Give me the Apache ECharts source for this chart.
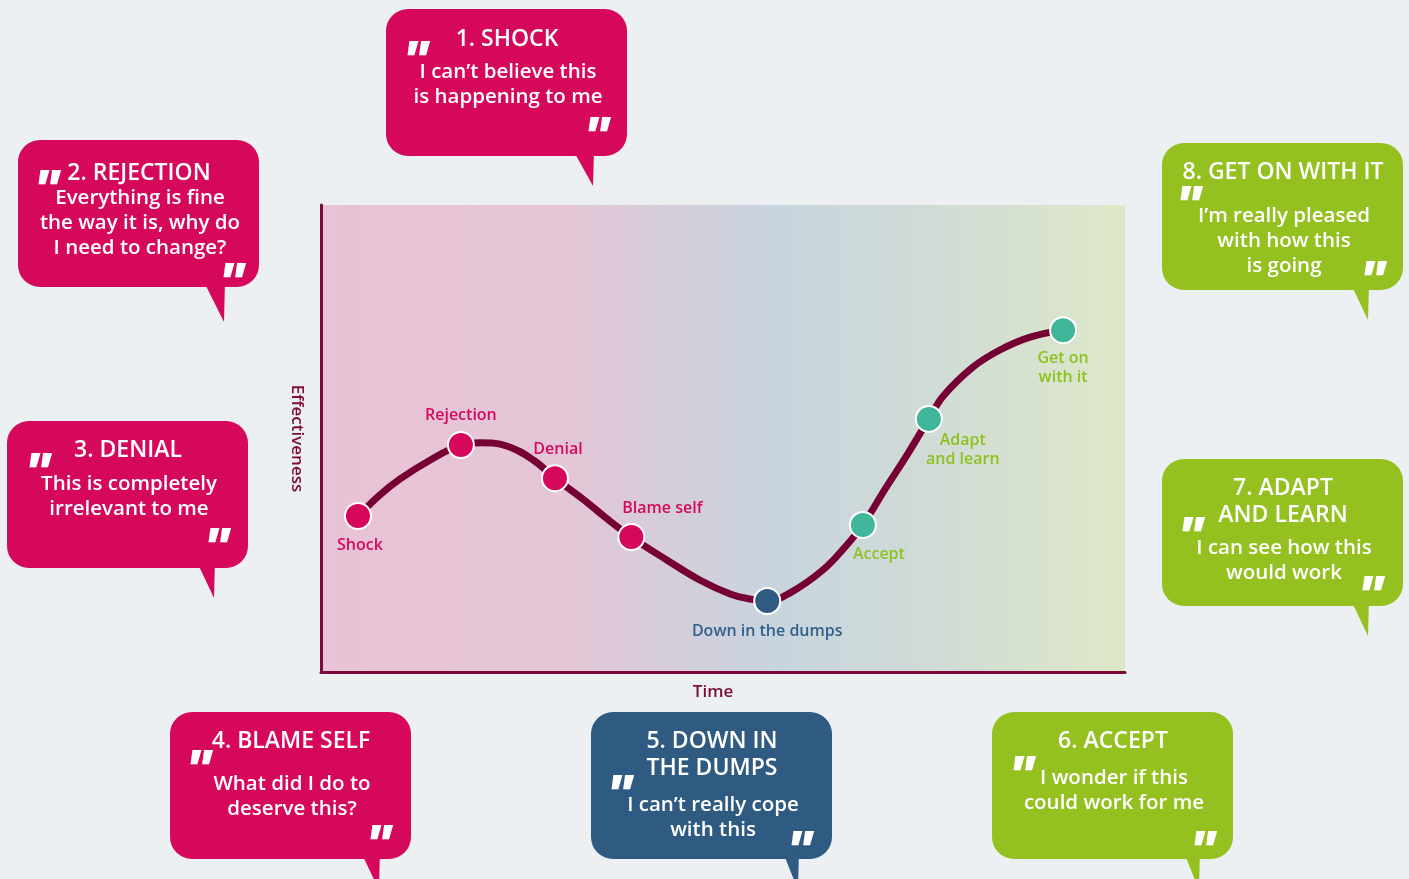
<!DOCTYPE html>
<html>
<head>
<meta charset="utf-8">
<script src="https://cdn.jsdelivr.net/npm/echarts@6/dist/echarts.min.js"></script>
<style>
html,body{margin:0;padding:0;background:#ecf0f3;}
#chart{width:1409px;height:879px;}
</style>
</head>
<body>
<div id="chart"></div>
<script>
// ---- data ----
const stages = ['Shock', 'Rejection', 'Denial', 'Blame self', 'Down in the dumps', 'Accept', 'Adapt\nand learn', 'Get on\nwith it'];
const timeValues = [4.6, 17.4, 29.1, 38.6, 55.5, 67.4, 75.6, 92.3];
const effectiveness = [33.4, 48.6, 41.5, 28.9, 15.2, 31.5, 54.2, 73.2];
const stageGroup = ['red', 'red', 'red', 'red', 'blue', 'green', 'green', 'green'];

// the change curve, read along its path
const curveTime = [4.6, 7.3, 9.8, 13.6, 17.4, 19.8, 23.1, 26.4, 29.1, 32.6, 35.3, 38.6, 43.0, 47.1, 50.9, 53.4, 55.5, 58.3, 62.4, 65.4, 67.4, 70.1, 72.9, 75.6, 77.4, 81.1, 84.5, 88.2, 92.3];
const curveEff = [33.4, 37.9, 41.3, 45.4, 48.6, 49.1, 48.4, 45.4, 41.5, 37.0, 33.2, 28.9, 24.0, 19.7, 16.7, 15.6, 15.2, 16.9, 21.8, 27.2, 31.5, 39.0, 46.5, 54.2, 59.1, 65.3, 69.0, 71.7, 73.2];

const bubbleTitles = ['1. SHOCK', '2. REJECTION', '3. DENIAL', '4. BLAME SELF', '5. DOWN IN\nTHE DUMPS', '6. ACCEPT', '7. ADAPT\nAND LEARN', '8. GET ON WITH IT'];
const bubbleQuotes = [
  'I can\u2019t believe this\nis happening to me',
  'Everything is fine\nthe way it is, why do\nI need to change?',
  'This is completely\nirrelevant to me',
  'What did I do to\ndeserve this?',
  'I can\u2019t really cope\nwith this',
  'I wonder if this\ncould work for me',
  'I can see how this\nwould work',
  'I\u2019m really pleased\nwith how this\nis going'
];

const pointColor = { red: '#d6085b', blue: '#2f5b82', green: '#40b69b' };
const labelColor = { red: '#d6085b', blue: '#31608c', green: '#8dc21f' };
const bubbleColor = { red: '#d6085b', blue: '#2f5b82', green: '#94c11f' };
const labelOffsets = [[2, 29], [0, -30], [3, -29], [31, -29], [0, 30], [16, 30], [34, 31], [0, 38]];

// ---- layout of bubbles (pixels) ----
const bubbleLayout = [
  { x: 386, y: 9, tail: [[573, 150], [594, 150], [593, 186]], titleY: 39, quoteY: 85, qo: [415, 65], qc: [596, 141] },
  { x: 18, y: 140, tail: [[203, 280], [225, 280], [224, 322]], titleY: 173, quoteY: 223, qo: [46, 194], qc: [231, 287] },
  { x: 7, y: 421, tail: [[196, 560], [215, 560], [214, 598]], titleY: 450, quoteY: 497, qo: [37, 477], qc: [216, 552] },
  { x: 170, y: 712, tail: [[360, 850], [380, 850], [379, 890]], titleY: 741, quoteY: 797, qo: [198, 774], qc: [378, 849] },
  { x: 591, y: 712, tail: [[782, 850], [799, 850], [798, 890]], titleY: 755, quoteY: 818, qo: [619, 799], qc: [799, 855] },
  { x: 992, y: 712, tail: [[1183, 850], [1200, 850], [1199, 890]], titleY: 741, quoteY: 791, qo: [1021, 780], qc: [1202, 855] },
  { x: 1162, y: 459, tail: [[1350, 598], [1369, 598], [1368, 636]], titleY: 502, quoteY: 561, qo: [1190, 541], qc: [1370, 600] },
  { x: 1162, y: 143, tail: [[1350, 282], [1369, 282], [1368, 320]], titleY: 172, quoteY: 241, qo: [1188, 210], qc: [1372, 285] }
];

const graphics = [];
bubbleLayout.forEach((b, i) => {
  const col = bubbleColor[stageGroup[i]];
  graphics.push({ type: 'rect', shape: { x: b.x, y: b.y, width: 241, height: 147, r: 22 }, style: { fill: col }, z: 1 });
  graphics.push({ type: 'polygon', shape: { points: b.tail }, style: { fill: col }, z: 1 });
  graphics.push({ type: 'text', z: 2, style: { text: bubbleTitles[i], x: b.x + 121, y: b.titleY, align: 'center', verticalAlign: 'middle', fill: '#fff', font: '600 23px "Open Sans"', lineHeight: 27 } });
  graphics.push({ type: 'text', z: 2, style: { text: bubbleQuotes[i], x: b.x + 122, y: b.quoteY, align: 'center', verticalAlign: 'middle', fill: '#fff', font: '600 20.5px "Open Sans"', lineHeight: 25 } });
  graphics.push({ type: 'text', z: 2, style: { text: '"', x: b.qo[0], y: b.qo[1], align: 'center', verticalAlign: 'middle', fill: '#fff', font: 'italic 800 54px "Open Sans"' } });
  graphics.push({ type: 'text', z: 2, style: { text: '"', x: b.qc[0], y: b.qc[1], align: 'center', verticalAlign: 'middle', fill: '#fff', font: 'italic 800 54px "Open Sans"' } });
});

const curveData = curveTime.map((t, i) => [t, curveEff[i]]);
const pointData = timeValues.map((t, i) => ({
  value: [t, effectiveness[i]],
  name: stages[i],
  itemStyle: { color: pointColor[stageGroup[i]], borderColor: '#fff', borderWidth: 2, opacity: 1 },
  label: { offset: labelOffsets[i], color: labelColor[stageGroup[i]] }
}));

const chart = echarts.init(document.getElementById('chart'));
chart.setOption({
  backgroundColor: '#ecf0f3',
  animation: false,
  textStyle: { fontFamily: '"Open Sans"' },
  grid: {
    left: 321, top: 205, width: 804, height: 467, show: true, borderWidth: 0,
    backgroundColor: {
      type: 'linear', x: 0, y: 0, x2: 1, y2: 0,
      colorStops: [
        { offset: 0, color: '#e8c2d5' },
        { offset: 0.3, color: '#e4c6d6' },
        { offset: 0.56, color: '#c8d4de' },
        { offset: 0.78, color: '#d1dcd5' },
        { offset: 1, color: '#dee8c8' }
      ]
    }
  },
  xAxis: {
    type: 'value', min: 0, max: 100,
    name: 'Time', nameLocation: 'middle', nameGap: 12,
    nameTextStyle: { color: '#7d0a3c', fontSize: 17, fontWeight: 600, fontFamily: '"Open Sans"', padding: [0, 20, 0, 0] },
    axisLine: { show: true, lineStyle: { color: '#7d0a3c', width: 3 } },
    axisTick: { show: false }, axisLabel: { show: false }, splitLine: { show: false }
  },
  yAxis: {
    type: 'value', min: 0, max: 100,
    name: 'Effectiveness', nameLocation: 'middle', nameGap: 16, nameRotate: -90,
    nameTextStyle: { color: '#7d0a3c', fontSize: 17, fontWeight: 600, fontFamily: '"Open Sans"' },
    axisLine: { show: true, lineStyle: { color: '#7d0a3c', width: 3 } },
    axisTick: { show: false }, axisLabel: { show: false }, splitLine: { show: false }
  },
  series: [{
    type: 'line',
    data: curveData,
    smooth: 0.4,
    showSymbol: false,
    lineStyle: { color: '#760034', width: 7 },
    z: 2
  }, {
    type: 'scatter',
    data: pointData,
    symbol: 'circle',
    symbolSize: 26,
    itemStyle: { opacity: 1 },
    label: {
      show: true, position: 'inside', formatter: p => p.name,
      fontSize: 16, fontWeight: 600, fontFamily: '"Open Sans"', lineHeight: 19, align: 'center'
    },
    z: 3
  }],
  graphic: graphics
});
</script>
</body>
</html>
